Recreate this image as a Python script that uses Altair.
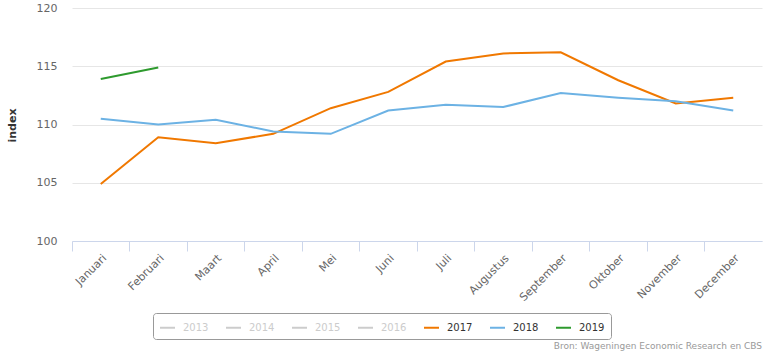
import altair as alt
import pandas as pd

months = ["Januari", "Februari", "Maart", "April", "Mei", "Juni", "Juli",
          "Augustus", "September", "Oktober", "November", "December"]
years = ["2013", "2014", "2015", "2016", "2017", "2018", "2019"]
colors = ["#cccccc", "#cccccc", "#cccccc", "#cccccc", "#f07800", "#6cb2e4", "#2e9a2e"]

v2017 = [104.9, 108.9, 108.4, 109.2, 111.4, 112.8, 115.4, 116.1, 116.2, 113.8, 111.8, 112.3]
v2018 = [110.5, 110.0, 110.4, 109.4, 109.2, 111.2, 111.7, 111.5, 112.7, 112.3, 112.0, 111.2]
v2019 = [113.9, 114.9]

rows = []
for yr, vals in (("2017", v2017), ("2018", v2018), ("2019", v2019)):
    for m, v in zip(months, vals):
        rows.append({"maand": m, "jaar": yr, "index": v})
df = pd.DataFrame(rows)

FONT = "DejaVu Sans"

lines = alt.Chart(df).mark_line(strokeWidth=2).encode(
    x=alt.X("maand:N", sort=months, bandPosition=0.5,
            scale=alt.Scale(type="band", domain=months, paddingInner=0, paddingOuter=0),
            axis=alt.Axis(title=None, labelAngle=-45, labelFontSize=11, labelColor="#666666",
                          labelFont=FONT, domainColor="#ccd6eb", tickColor="#ccd6eb",
                          tickSize=10, bandPosition=0,
                          labelPadding=1, grid=False, labelAlign="right",
                          labelBaseline="top")),
    y=alt.Y("index:Q", scale=alt.Scale(domain=[100, 120], nice=False, zero=False),
            axis=alt.Axis(title="index", values=[100, 105, 110, 115, 120], domain=False,
                          ticks=False, tickSize=0, labelPadding=15, labelFontSize=11,
                          labelColor="#666666", labelFont=FONT, gridColor="#e6e6e6",
                          titleFont=FONT, titleFontSize=11, titleFontWeight="bold",
                          titleColor="#333333", titleX=-55, titleY=117)),
    color=alt.Color("jaar:N", scale=alt.Scale(domain=years, range=colors),
                    legend=alt.Legend(title=None, orient="none", legendX=81, legendY=305,
                                      direction="horizontal", strokeColor="#999999",
                                      cornerRadius=3, padding=6, symbolType="stroke",
                                      symbolStrokeWidth=2, symbolSize=225, labelOffset=7,
                                      columnPadding=13, labelFont=FONT, labelFontSize=10,
                                      labelColor=alt.ExprRef(
                                          "datum.label < '2017' ? '#cccccc' : '#333333'"))),
)

credits = alt.Chart(alt.Data(values=[{"t": "Bron: Wageningen Economic Research en CBS"}])).mark_text(
    align="right", baseline="alphabetic", font=FONT, fontSize=9, color="#999999"
).encode(text="t:N", x=alt.value(690), y=alt.value(341))

chart = alt.layer(lines, credits).properties(
    width=690, height=233,
    padding={"left": 72, "top": 8, "right": 5, "bottom": 114},
    autosize=alt.AutoSizeParams(type="none"),
).configure_view(stroke=None)

chart.save("out.html", embed_options={"renderer": "svg", "actions": False})
